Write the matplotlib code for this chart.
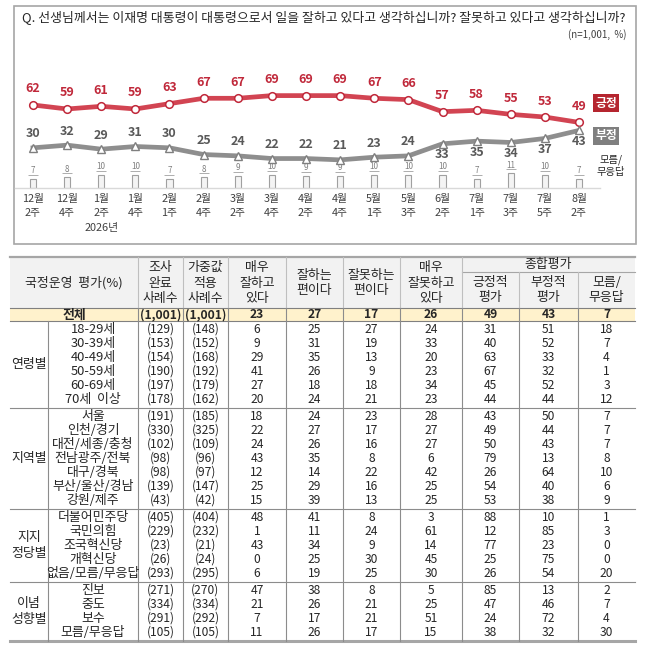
import numpy as np
import matplotlib.pyplot as plt
from matplotlib.patches import Rectangle

plt.rcParams['font.family'] = ['Noto Sans CJK KR', 'DejaVu Sans']

# ---- trend chart data ----
weeks = ['12월\n2주', '12월\n4주', '1월\n2주', '1월\n4주', '2월\n1주', '2월\n4주', '3월\n2주', '3월\n4주',
         '4월\n2주', '4월\n4주', '5월\n1주', '5월\n3주', '6월\n2주', '7월\n1주', '7월\n3주', '7월\n5주', '8월\n2주']
positive = [62, 59, 61, 59, 63, 67, 67, 69, 69, 69, 67, 66, 57, 58, 55, 53, 49]
negative = [30, 32, 29, 31, 30, 25, 24, 22, 22, 21, 23, 24, 33, 35, 34, 37, 43]
unknown = [7, 8, 10, 10, 7, 8, 9, 10, 9, 9, 10, 10, 10, 7, 11, 10, 7]
neg_below_from = 12  # labels of the negative line go under the marker from here on

# ---- table data ----
head_labels = ['조사\n완료\n사례수', '가중값\n적용\n사례수', '매우\n잘하고\n있다', '잘하는\n편이다',
               '잘못하는\n편이다', '매우\n잘못하고\n있다', '긍정적\n평가', '부정적\n평가', '모름/\n무응답']
total_n = [1001, 1001]
total_vals = [23, 27, 17, 26, 49, 43, 7]

group_names = ['연령별', '지역별', '지지\n정당별', '이념\n성향별']
row_labels = [
    ['18-29세', '30-39세', '40-49세', '50-59세', '60-69세', '70세  이상'],
    ['서울', '인천/경기', '대전/세종/충청', '전남광주/전북', '대구/경북', '부산/울산/경남', '강원/제주'],
    ['더불어민주당', '국민의힘', '조국혁신당', '개혁신당', '없음/모름/무응답'],
    ['진보', '중도', '보수', '모름/무응답'],
]
n_done = [
    [129, 153, 154, 190, 197, 178],
    [191, 330, 102, 98, 98, 139, 43],
    [405, 229, 23, 26, 293],
    [271, 334, 291, 105],
]
n_weighted = [
    [148, 152, 168, 192, 179, 162],
    [185, 325, 109, 96, 97, 147, 42],
    [404, 232, 21, 24, 295],
    [270, 334, 292, 105],
]
row_vals = [
    [[6, 25, 27, 24, 31, 51, 18],
     [9, 31, 19, 33, 40, 52, 7],
     [29, 35, 13, 20, 63, 33, 4],
     [41, 26, 9, 23, 67, 32, 1],
     [27, 18, 18, 34, 45, 52, 3],
     [20, 24, 21, 23, 44, 44, 12]],
    [[18, 24, 23, 28, 43, 50, 7],
     [22, 27, 17, 27, 49, 44, 7],
     [24, 26, 16, 27, 50, 43, 7],
     [43, 35, 8, 6, 79, 13, 8],
     [12, 14, 22, 42, 26, 64, 10],
     [25, 29, 16, 25, 54, 40, 6],
     [15, 39, 13, 25, 53, 38, 9]],
    [[48, 41, 8, 3, 88, 10, 1],
     [1, 11, 24, 61, 12, 85, 3],
     [43, 34, 9, 14, 77, 23, 0],
     [0, 25, 30, 45, 25, 75, 0],
     [6, 19, 25, 30, 26, 54, 20]],
    [[47, 38, 8, 5, 85, 13, 2],
     [21, 26, 21, 25, 47, 46, 7],
     [7, 17, 21, 51, 24, 72, 4],
     [11, 26, 17, 15, 38, 32, 30]],
]

RED = '#c0283a'
RED_LINE = '#d24452'
GRAY = '#7f7f7f'
GRAY_LINE = '#8e8e8e'
TXT = '#262626'
LINE = '#a6a6a6'

W, H = 651, 648
fig = plt.figure(figsize=(W / 100, H / 100), dpi=100)

# full-figure axes in pixel units for frame + table
bg = fig.add_axes([0, 0, 1, 1])
bg.set_xlim(0, W)
bg.set_ylim(H, 0)
bg.axis('off')

# chart frame and question
bg.add_patch(Rectangle((14, 6), 622, 238, fc='none', ec=LINE, lw=1.2))
bg.text(22, 17, 'Q. 선생님께서는 이재명 대통령이 대통령으로서 일을 잘하고 있다고 생각하십니까? 잘못하고 있다고 생각하십니까?',
        fontsize=9.3, color=TXT, ha='left', va='center')
bg.text(627, 35, '(n=1,001,  %)', fontsize=7, color='#404040', ha='right', va='center')

# ---- trend chart ----
px_per_unit = 1.339
ax = fig.add_axes([15 / W, 1 - 188 / H, 585 / W, 128 / H])
ax.set_facecolor('none')
ax.set_xlim(-0.527, 16.615)
ax.set_ylim(0, 128 / px_per_unit)
x = np.arange(len(weeks))

ax.bar(x, unknown, width=0.18, color='#f4f4f4', edgecolor='#a0a0a0', linewidth=0.8, zorder=2)
for i, v in enumerate(unknown):
    ax.annotate(str(v), (i, v), xytext=(0, 8), textcoords='offset pixels', ha='center', va='center',
                fontsize=5.8, style='italic', color=GRAY)
ax.plot(x, np.array(unknown) + 3.0, linestyle='none', marker='_', markersize=7, color='#a0a0a0',
        markeredgewidth=0.6)

ax.plot(x, positive, color=RED_LINE, lw=3.4, zorder=3, marker='o', markersize=5.5,
        markerfacecolor='white', markeredgecolor=RED, markeredgewidth=1.1)
ax.plot(x, negative, color=GRAY_LINE, lw=3.4, zorder=3, marker='^', markersize=5.5,
        markerfacecolor='white', markeredgecolor=GRAY, markeredgewidth=1.0)

for i, v in enumerate(positive):
    ax.annotate(str(v), (i, v), xytext=(0, 16), textcoords='offset pixels', ha='center', va='center',
                fontsize=9, color=RED, fontweight='bold', annotation_clip=False)
for i, v in enumerate(negative):
    dy = -11 if i >= neg_below_from else 14
    ax.annotate(str(v), (i, v), xytext=(0, dy), textcoords='offset pixels', ha='center', va='center',
                fontsize=9, color='#595959', fontweight='bold', annotation_clip=False)

ax.set_xticks(x)
ax.set_xticklabels(weeks, fontsize=7.8, color='#404040', linespacing=1.5)
ax.tick_params(axis='x', length=0, pad=4)
ax.set_yticks([])
for s in ['top', 'right', 'left']:
    ax.spines[s].set_visible(False)
ax.spines['bottom'].set_color('#d9d9d9')
ax.spines['bottom'].set_linewidth(1.0)
ax.annotate('2026년', (2, 0), xytext=(0, -40), textcoords='offset pixels', ha='center', va='center',
            fontsize=7.8, color='#404040', annotation_clip=False)

fig.text(606 / W, 1 - 103 / H, '긍정', fontsize=8.5, color='white', fontweight='bold', ha='center', va='center',
         bbox=dict(boxstyle='square,pad=0.22', fc='#b5252f', ec='none'))
fig.text(606 / W, 1 - 136 / H, '부정', fontsize=8.5, color='white', fontweight='bold', ha='center', va='center',
         bbox=dict(boxstyle='square,pad=0.22', fc=GRAY, ec='none'))
fig.text(611 / W, 1 - 166 / H, '모름/\n무응답', fontsize=7.4, color=TXT, ha='center', va='center',
         linespacing=1.2)

# ---- table ----
col_x = [138, 183, 228, 286, 343, 400, 462, 519, 578, 635]
left, right = 10, 635
grp_x = 48
head_top, head_bot = 257, 308
total_bot = 321
row_h, pad = 14.0, 1.5
lfs = 9.3   # hangul labels
nfs = 8.7   # numbers

bg.add_patch(Rectangle((left, head_top), right - left, head_bot - head_top, fc='#f2f2f2', ec='none'))
bg.add_patch(Rectangle((left, head_bot), right - left, total_bot - head_bot, fc='#fff2cc', ec='none'))
bg.plot([left, right], [head_top, head_top], color=LINE, lw=1.6)
bg.plot([left, right], [head_bot, head_bot], color='#808080', lw=0.8)
bg.plot([left, right], [total_bot, total_bot], color='#808080', lw=0.8)
bg.plot([col_x[6], right], [272, 272], color=LINE, lw=0.8)

for k, cx in enumerate(col_x[:-1]):
    y_start = 272 if k in (7, 8) else head_top
    bg.plot([cx, cx], [y_start, head_bot], color='#bfbfbf', lw=0.8)

bg.text((left + col_x[0]) / 2, (head_top + head_bot) / 2, '국정운영  평가(%)', fontsize=lfs, color=TXT,
        ha='center', va='center')
for k, lab in enumerate(head_labels):
    cx = (col_x[k] + col_x[k + 1]) / 2
    cy = 290 if k >= 6 else (head_top + head_bot) / 2 + 0.5
    bg.text(cx, cy, lab, fontsize=lfs, color=TXT, ha='center', va='center', linespacing=1.22)
bg.text((col_x[6] + right) / 2, 264.5, '종합평가', fontsize=lfs, color=TXT, ha='center', va='center')

ty = (head_bot + total_bot) / 2
bg.text((left + col_x[0]) / 2, ty, '전체', fontsize=lfs, color=TXT, fontweight='bold', ha='center', va='center')
total_cells = [f'({n:,})' for n in total_n] + [str(v) for v in total_vals]
for k, s in enumerate(total_cells):
    bg.text((col_x[k] + col_x[k + 1]) / 2, ty, s, fontsize=nfs, color=TXT, fontweight='bold',
            ha='center', va='center')

y = total_bot
for g, name in enumerate(group_names):
    g_top = y
    y += pad
    for r, lab in enumerate(row_labels[g]):
        cy = y + row_h / 2
        bg.text((grp_x + col_x[0]) / 2, cy, lab, fontsize=lfs, color=TXT, ha='center', va='center')
        cells = [f'({n_done[g][r]:,})', f'({n_weighted[g][r]:,})'] + [str(v) for v in row_vals[g][r]]
        for k, s in enumerate(cells):
            bg.text((col_x[k] + col_x[k + 1]) / 2, cy, s, fontsize=nfs, color=TXT, ha='center', va='center')
        y += row_h
    y += pad
    bg.text((left + grp_x) / 2, (g_top + y) / 2, name, fontsize=lfs, color=TXT, ha='center', va='center',
            linespacing=1.25)
    if g < len(group_names) - 1:
        bg.plot([left, right], [y, y], color='#8c8c8c', lw=0.8)

bg.plot([left, right], [y, y], color=LINE, lw=2.2)
for cx in [grp_x] + col_x[:-1]:
    bg.plot([cx, cx], [total_bot, y], color='#8c8c8c', lw=0.8)
for cx in col_x[:-1]:
    bg.plot([cx, cx], [head_bot, total_bot], color='#8c8c8c', lw=0.8)

fig.savefig('out.png', dpi=100)
